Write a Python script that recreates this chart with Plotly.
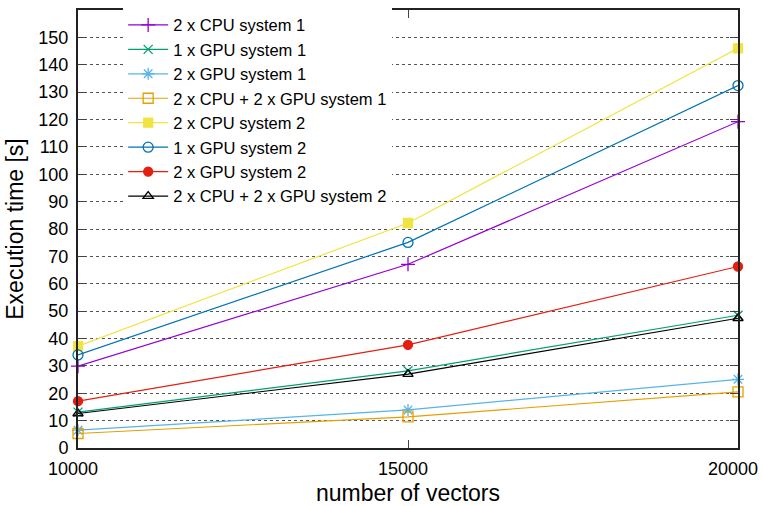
import plotly.graph_objects as go

vectors = [10000, 15000, 20000]
x_tick_labels = ["10000", "15000", "20000"]

names = [
    "2 x CPU system 1",
    "1 x GPU system 1",
    "2 x GPU system 1",
    "2 x CPU + 2 x GPU system 1",
    "2 x CPU system 2",
    "1 x GPU system 2",
    "2 x GPU system 2",
    "2 x CPU + 2 x GPU system 2",
]

cpu2_sys1 = [29.9, 67.1, 119.2]
gpu1_sys1 = [13.1, 28.2, 48.5]
gpu2_sys1 = [6.5, 13.9, 25.1]
cpu2gpu2_sys1 = [5.3, 11.4, 20.5]
cpu2_sys2 = [37.2, 82.2, 146.0]
gpu1_sys2 = [34.0, 75.1, 132.4]
gpu2_sys2 = [17.1, 37.7, 66.3]
cpu2gpu2_sys2 = [12.6, 27.0, 47.4]

series = [cpu2_sys1, gpu1_sys1, gpu2_sys1, cpu2gpu2_sys1,
          cpu2_sys2, gpu1_sys2, gpu2_sys2, cpu2gpu2_sys2]

colors = ["#9400d3", "#009e73", "#56b4e9", "#e69f00",
          "#f0e442", "#0072b2", "#e51e10", "#000000"]
symbols = ["cross-thin-open", "x-thin-open", "asterisk-open", "square-open",
           "square", "circle-open", "circle", "triangle-up-open"]
sizes = [10, 9, 10, 10, 9, 10, 9, 9]

y_ticks = list(range(0, 151, 10))

fig = go.Figure()
for name, vals, c, s, sz in zip(names, series, colors, symbols, sizes):
    fig.add_trace(go.Scatter(
        x=vectors, y=vals, name=name, mode="lines+markers",
        line=dict(color=c, width=1.2),
        marker=dict(symbol=s, size=sz, color=c, line=dict(color=c, width=1.3)),
        cliponaxis=False,
    ))

font_family = "Liberation Sans, Arial, sans-serif"

fig.update_layout(
    width=762, height=506,
    margin=dict(l=78, r=24, t=9, b=58),
    paper_bgcolor="white", plot_bgcolor="white",
    font=dict(family=font_family, size=18, color="black"),
    showlegend=True,
    legend=dict(
        x=0.476, xanchor="right", y=1.003, yanchor="top",
        bgcolor="white", borderwidth=0,
        font=dict(size=16.5, family=font_family),
        tracegroupgap=0, itemwidth=40,
    ),
    xaxis=dict(
        range=[10000, 20000], tickvals=vectors, ticktext=x_tick_labels,
        ticks="inside", ticklen=8, tickcolor="#444", tickwidth=1,
        ticklabelshift=-5, ticklabelstandoff=3, automargin=False,
        showline=True, linecolor="#222", linewidth=2, mirror="ticks",
        showgrid=False, zeroline=False,
        title=dict(text="number of vectors", font=dict(size=23), standoff=15),
        tickfont=dict(size=18),
    ),
    yaxis=dict(
        range=[0, 160], tickvals=y_ticks,
        ticks="inside", ticklen=8, tickcolor="#444", tickwidth=1,
        ticklabelstandoff=4, automargin=False,
        showline=True, linecolor="#222", linewidth=2, mirror="ticks",
        showgrid=True, gridcolor="#555", griddash="dot", gridwidth=1,
        zeroline=False,
        title=dict(text="Execution time [s]", font=dict(size=23), standoff=8),
        tickfont=dict(size=18),
    ),
)

fig.write_html("out.html")
